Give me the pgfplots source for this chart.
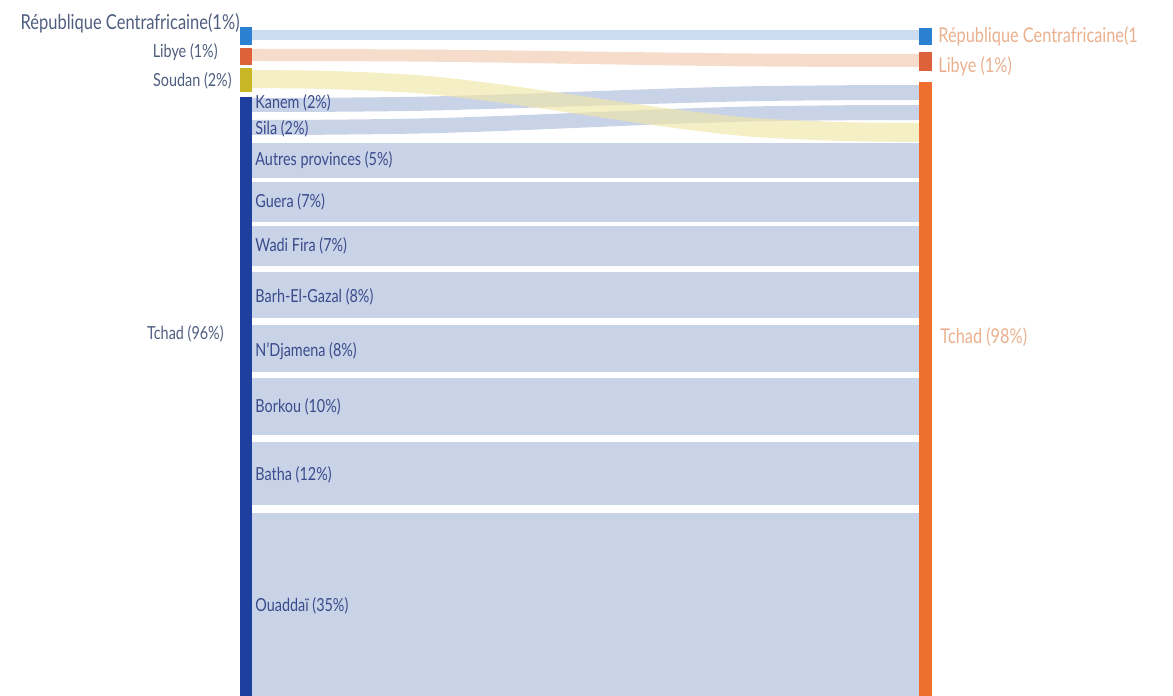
\documentclass[border=0pt]{standalone}
\usepackage{fontspec}
\setmainfont[FakeStretch=0.8]{Lato}
\usepackage{pgfplots}
\pgfplotsset{compat=1.18}
\usepgfplotslibrary{fillbetween}

\definecolor{rcaN}{HTML}{2C80D2}
\definecolor{libN}{HTML}{DD623C}
\definecolor{souN}{HTML}{C9B626}
\definecolor{tchL}{HTML}{1E3F9E}
\definecolor{tchR}{HTML}{EF6F2E}
\definecolor{rcaF}{HTML}{CCDDF1}
\definecolor{libF}{HTML}{F6DDCB}
\definecolor{souF}{HTML}{EFE6A6}
\definecolor{tchF}{HTML}{C9D3E8}
\definecolor{labL}{HTML}{4F5D7E}
\definecolor{labI}{HTML}{3A4B8C}
\definecolor{labR}{HTML}{EAB08E}

\tikzset{
    outL/.style={anchor=east, text=labL, font=\fontsize{9}{10}\selectfont, inner sep=0pt},
    inL/.style={anchor=west, text=labI, font=\fontsize{9}{10}\selectfont, inner sep=0pt},
    outR/.style={anchor=west, text=labR, font=\fontsize{10.2}{11}\selectfont, inner sep=0pt},
}

\begin{document}
\begin{tikzpicture}
\begin{axis}[
    width=586.5pt, height=348pt, scale only axis,
    xmin=0, xmax=1173, ymin=0, ymax=696, y dir=reverse,
    hide axis, clip=false,
]
\coordinate (BL) at (axis cs:0,696);
\coordinate (TR) at (axis cs:1173,0);

% straight flows (Tchad provinces, RCA)
\addplot[fill=rcaF, draw=none] coordinates {(252,30) (919,30) (919,40) (252,40)} --cycle;
\addplot[fill=tchF, draw=none] coordinates {(252,143) (919,143) (919,178) (252,178)} --cycle;
\addplot[fill=tchF, draw=none] coordinates {(252,182) (919,182) (919,222) (252,222)} --cycle;
\addplot[fill=tchF, draw=none] coordinates {(252,226) (919,226) (919,266) (252,266)} --cycle;
\addplot[fill=tchF, draw=none] coordinates {(252,272) (919,272) (919,318) (252,318)} --cycle;
\addplot[fill=tchF, draw=none] coordinates {(252,325) (919,325) (919,372) (252,372)} --cycle;
\addplot[fill=tchF, draw=none] coordinates {(252,378) (919,378) (919,435) (252,435)} --cycle;
\addplot[fill=tchF, draw=none] coordinates {(252,442) (919,442) (919,505) (252,505)} --cycle;
\addplot[fill=tchF, draw=none] coordinates {(252,513) (919,513) (919,696) (252,696)} --cycle;

% curved flows: edges
% Libye
\addplot[name path=libT, draw=none, smooth] coordinates {(252,49) (330,49.1) (420,49.5) (500,50.4) (585,51.5) (670,52.6) (750,53.5) (840,53.9) (919,54)};
\addplot[name path=libB, draw=none, smooth] coordinates {(252,61) (330,61.1) (420,61.6) (500,62.6) (585,64) (670,65.4) (750,66.4) (840,66.9) (919,67)};
\addplot[fill=libF, draw=none] fill between[of=libT and libB];
% Kanem
\addplot[name path=kanT, draw=none, smooth] coordinates {(252,98) (330,97.7) (420,96.7) (500,94.5) (585,91.5) (670,88.5) (750,86.3) (840,85.3) (919,85)};
\addplot[name path=kanB, draw=none, smooth] coordinates {(252,112) (330,111.8) (420,110.8) (500,108.6) (585,106) (670,103.4) (750,101.2) (840,100.2) (919,100)};
\addplot[fill=tchF, draw=none] fill between[of=kanT and kanB];
% Sila
\addplot[name path=silT, draw=none, smooth] coordinates {(252,120) (330,119.7) (420,118.5) (500,116) (585,112.5) (670,109) (750,106.5) (840,105.3) (919,105)};
\addplot[name path=silB, draw=none, smooth] coordinates {(252,135) (330,134.7) (420,133.5) (500,131) (585,127.5) (670,124) (750,121.5) (840,120.3) (919,120)};
\addplot[fill=tchF, draw=none] fill between[of=silT and silB];
% Soudan
\addplot[name path=souT, draw=none, smooth] coordinates {(252,70) (330,71) (420,75.3) (500,84.3) (585,96.5) (670,108.7) (750,117.7) (840,122) (919,123)};
\addplot[name path=souB, draw=none, smooth] coordinates {(252,88) (330,89.1) (420,93.4) (500,102.6) (585,115) (670,127.4) (750,136.6) (840,140.9) (919,142)};
\addplot[fill=souF, fill opacity=0.65, draw=none] fill between[of=souT and souB];

% left nodes
\addplot[fill=rcaN, draw=none] coordinates {(240,27) (252,27) (252,45) (240,45)} --cycle;
\addplot[fill=libN, draw=none] coordinates {(240,48) (252,48) (252,65) (240,65)} --cycle;
\addplot[fill=souN, draw=none] coordinates {(240,68) (252,68) (252,92) (240,92)} --cycle;
\addplot[fill=tchL, draw=none] coordinates {(240,97) (252,97) (252,696) (240,696)} --cycle;
% right nodes
\addplot[fill=rcaN, draw=none] coordinates {(919,28) (932,28) (932,45) (919,45)} --cycle;
\addplot[fill=libN, draw=none] coordinates {(919,52) (932,52) (932,71) (919,71)} --cycle;
\addplot[fill=tchR, draw=none] coordinates {(919,82) (932,82) (932,696) (919,696)} --cycle;

% labels, left of the source nodes
\node[outL, font=\fontsize{10.3}{11}\selectfont] at (axis cs:240,23) {République Centrafricaine(1\%)};
\node[outL] at (axis cs:218,52) {Libye (1\%)};
\node[outL] at (axis cs:232,81) {Soudan (2\%)};
\node[outL] at (axis cs:224,334) {Tchad (96\%)};
% labels of the provinces
\node[inL] at (axis cs:255,103) {Kanem (2\%)};
\node[inL] at (axis cs:255,129) {Sila (2\%)};
\node[inL] at (axis cs:255,160) {Autres provinces (5\%)};
\node[inL] at (axis cs:255,202) {Guera (7\%)};
\node[inL] at (axis cs:255,246) {Wadi Fira (7\%)};
\node[inL] at (axis cs:255,297) {Barh-El-Gazal (8\%)};
\node[inL] at (axis cs:255,351) {N'Djamena (8\%)};
\node[inL] at (axis cs:255,407) {Borkou (10\%)};
\node[inL] at (axis cs:255,475) {Batha (12\%)};
\node[inL] at (axis cs:255,606) {Ouaddaï (35\%)};
% labels right of the target nodes
\node[outR] at (axis cs:938,36) {République Centrafricaine(1};
\node[outR] at (axis cs:938,66) {Libye (1\%)};
\node[outR] at (axis cs:940,337) {Tchad (98\%)};
\end{axis}
\pgfresetboundingbox
\path (BL) rectangle (TR);
\end{tikzpicture}
\end{document}
